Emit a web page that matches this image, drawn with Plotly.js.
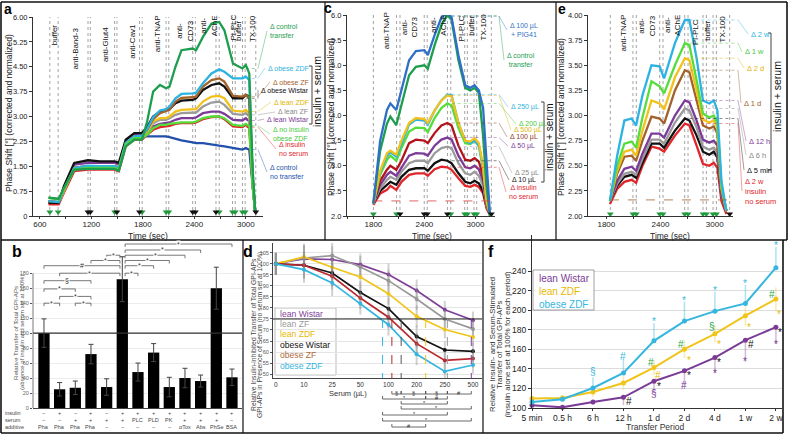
<!DOCTYPE html>
<html>
<head>
<meta charset="utf-8">
<script src="https://cdn.plot.ly/plotly-3.0.1.min.js"></script>
<style>
html,body{margin:0;padding:0;background:#fff;}
#chart{width:789px;height:440px;}
</style>
</head>
<body>
<div id="chart"></div>
<script>
// ================= DATA =================
// ---- panel a : phase shift traces (time in s) ----
const timeA = [700, 820, 880, 1000, 1160, 1300, 1470, 1520, 1600, 1700, 1790, 1850, 1920, 2000, 2070, 2110, 2180, 2250, 2380, 2420, 2500, 2600, 2690, 2750, 2850, 2960, 3000, 3040, 3080, 3110];
const aControlTransfer = [0.55,0.52,0.85,1.40,1.42,1.42,1.42,1.36,2.10,2.30,2.30,2.85,3.75,3.95,3.85,3.90,4.50,5.00,5.05,5.00,5.40,5.80,5.85,5.60,4.60,4.45,4.55,4.30,1.40,0.10];
const aObeseZDF        = [0.45,0.42,0.80,1.45,1.52,1.50,1.50,1.45,2.20,2.40,2.42,2.62,2.98,3.18,3.22,3.30,3.55,3.68,3.70,3.72,4.00,4.30,4.42,4.35,4.15,4.15,4.20,4.10,1.00,0.10];
const aObeseZF         = [0.45,0.42,0.80,1.45,1.50,1.50,1.50,1.45,2.20,2.40,2.42,2.60,2.92,3.10,3.15,3.20,3.45,3.56,3.58,3.60,3.90,4.10,4.15,4.05,3.62,3.60,3.65,3.55,1.00,0.10];
const aObeseWistar     = [0.40,0.40,0.90,1.60,1.68,1.65,1.65,1.60,2.30,2.50,2.50,2.68,3.00,3.15,3.20,3.22,3.40,3.48,3.50,3.55,3.80,3.95,4.00,3.90,3.55,3.55,3.65,3.60,1.20,0.10];
const aLeanZDF         = [0.40,0.40,0.75,1.45,1.50,1.50,1.50,1.45,2.20,2.40,2.40,2.55,2.85,2.95,2.95,3.00,3.15,3.20,3.20,3.22,3.45,3.60,3.62,3.55,3.18,3.15,3.20,3.10,1.00,0.10];
const aLeanZF          = [0.40,0.40,0.75,1.45,1.50,1.50,1.50,1.45,2.20,2.40,2.40,2.50,2.80,2.90,2.90,2.95,3.05,3.10,3.10,3.12,3.30,3.42,3.45,3.35,3.08,3.05,3.10,3.00,1.00,0.10];
const aLeanWistar      = [0.45,0.42,0.85,1.55,1.60,1.60,1.60,1.55,2.25,2.45,2.45,2.50,2.70,2.78,2.80,2.82,2.90,2.95,2.95,2.97,3.10,3.15,3.15,3.08,2.90,2.88,2.95,2.85,0.90,0.10];
const aNoInsulinObeseZDF = [0.55,0.50,0.80,1.40,1.45,1.45,1.45,1.40,2.15,2.35,2.35,2.45,2.65,2.75,2.75,2.78,2.80,2.82,2.82,2.85,2.95,3.00,3.00,2.95,2.75,2.72,2.78,2.70,0.90,0.10];
const aInsulinNoSerum  = [0.35,0.35,0.70,1.35,1.40,1.40,1.40,1.35,2.10,2.30,2.30,2.45,2.60,2.68,2.70,2.72,2.78,2.80,2.80,2.82,2.92,2.98,3.00,2.92,2.70,2.68,2.75,2.65,0.90,0.10];
const aControlNoTransfer = [0.40,0.40,0.80,1.45,1.50,1.50,1.50,1.45,2.20,2.40,2.40,2.40,2.42,2.42,2.40,2.38,2.32,2.28,2.22,2.20,2.20,2.15,2.12,2.10,2.05,2.00,2.05,2.00,0.90,0.10];
const eventsA = [716, 813, 1161, 1188, 1471, 1498, 1761, 1792, 2071, 2102, 2381, 2412, 2652, 2690, 2845, 2876, 2961, 2992, 3116];
const triGreenA = [716, 813, 1471, 1792, 2071, 2102, 2690, 2845, 2876, 2961, 2992];
const triBlackA = [1161, 1188, 1498, 1761, 2381, 2412, 2652, 3116];
const eventLabelsA = ['buffer','anti-Band-3','anti-Glut4','anti-Cav1','anti-TNAP','anti-<br>CD73','anti-<br>AChE','PI-PLC','buffer','TX-100'];
const eventLabelTimeA = [774, 1026, 1366, 1676, 1974, 2288, 2569, 2845, 2915, 3078];
const yTicksA = [0, 0.75, 1.5, 2.25, 3, 3.75, 4.5, 5.25, 6];
const yTickTextA = ['0','0.75','1.50','2.25','3.00','3.75','4.50','5.25','6.00'];
const legendA = ['Δ control<br>transfer','Δ obese ZDF','Δ obese ZF','Δ obese Wistar','Δ lean ZDF','Δ lean ZF','Δ lean Wistar','Δ no insulin<br>obese ZDF','Δ insulin<br>no serum','Δ control<br>no transfer'];

// ---- panel c : serum volume ----
const timeC = [1800, 1880, 1960, 2000, 2070, 2130, 2220, 2300, 2400, 2440, 2520, 2600, 2670, 2720, 2800, 2880, 2940, 2990, 3040, 3090, 3130, 3170];
const c100PIG41  = [2.25,3.50,4.11,4.24,4.11,4.50,5.10,5.28,5.30,5.20,5.60,5.95,6.05,5.95,5.20,4.60,4.55,4.60,4.50,4.15,3.00,2.05];
const cControl   = [2.25,3.30,3.84,3.98,3.81,4.20,4.80,4.97,5.00,4.93,5.40,5.80,6.00,5.90,5.10,4.55,4.50,4.55,4.45,3.60,2.60,2.00];
const c500       = [2.25,2.90,3.25,3.30,3.22,3.50,3.85,3.95,3.93,3.85,4.10,4.30,4.40,4.38,3.85,3.50,3.48,3.55,3.45,3.00,2.30,2.05];
const c250       = [2.25,2.88,3.20,3.27,3.18,3.45,3.82,3.92,3.90,3.82,4.10,4.30,4.42,4.40,3.85,3.50,3.45,3.50,3.40,2.95,2.30,2.05];
const c200       = [2.25,2.82,3.12,3.20,3.10,3.35,3.68,3.76,3.75,3.67,3.95,4.15,4.24,4.20,3.75,3.45,3.43,3.50,3.40,2.95,2.30,2.05];
const c100       = [2.25,2.70,2.92,3.00,2.92,3.10,3.45,3.52,3.50,3.45,3.65,3.80,3.85,3.80,3.40,3.12,3.10,3.15,3.08,2.80,2.25,2.05];
const c50        = [2.25,2.62,2.82,2.88,2.80,2.97,3.20,3.25,3.24,3.20,3.40,3.52,3.56,3.52,3.20,2.97,2.95,3.00,2.93,2.70,2.25,2.05];
const c25        = [2.25,2.55,2.72,2.78,2.72,2.88,3.05,3.10,3.10,3.05,3.25,3.35,3.38,3.35,3.05,2.85,2.82,2.88,2.80,2.60,2.20,2.05];
const c10        = [2.25,2.50,2.62,2.68,2.62,2.78,2.92,2.95,2.95,2.90,3.05,3.12,3.10,3.05,2.85,2.68,2.65,2.70,2.65,2.50,2.20,2.05];
const cNoSerum   = [2.22,2.45,2.52,2.60,2.52,2.68,2.82,2.85,2.85,2.80,2.93,2.98,2.97,2.92,2.75,2.60,2.58,2.62,2.58,2.45,2.15,2.02];
const eventsC = [1800, 2073, 2113, 2398, 2433, 2671, 2710, 2874, 2905, 2983, 3015, 3187];
const triGreenC = [1800, 2073, 2710, 2874, 2905, 2983, 3015];
const triBlackC = [2113, 2398, 2433, 2671, 3187];
const eventLabelsCE = ['anti-TNAP','anti-<br>CD73','anti-<br>AChE','PI-PLC','buffer','TX-100'];
const eventLabelTimeC = [1956, 2220, 2562, 2835, 2952, 3089];
const refLevelC = 2.3;
const legendC = ['Δ 100 µL<br>+ PIG41','Δ control<br>transfer','Δ 250 µL','Δ 200 µL','Δ 500 µL','Δ 100 µL','Δ 50 µL','Δ 25 µL','Δ 10 µL','Δ insulin<br>no serum'];

// ---- panel e : transfer period ----
const timeE = [1840, 1920, 2000, 2080, 2130, 2200, 2300, 2390, 2440, 2560, 2670, 2720, 2800, 2870, 2940, 2990, 3030, 3075, 3130];
const e2w        = [2.15,2.60,2.95,2.97,2.90,3.20,3.50,3.49,3.37,3.72,3.95,3.95,3.57,3.15,3.12,3.15,3.05,2.35,2.05];
const e1w        = [2.15,2.50,2.72,2.74,2.68,2.98,3.34,3.29,3.22,3.50,3.72,3.70,3.35,3.02,2.98,3.00,2.92,2.30,2.05];
const e2d        = [2.15,2.45,2.64,2.66,2.60,2.85,3.15,3.12,3.06,3.38,3.57,3.55,3.25,2.96,2.93,2.95,2.88,2.28,2.05];
const e1d        = [2.15,2.42,2.59,2.60,2.55,2.75,2.99,2.97,2.92,3.25,3.45,3.43,3.15,2.90,2.87,2.89,2.82,2.25,2.05];
const e12h       = [2.15,2.35,2.47,2.49,2.45,2.62,2.82,2.82,2.78,3.00,3.15,3.13,2.95,2.76,2.73,2.75,2.70,2.20,2.05];
const e6h        = [2.15,2.32,2.42,2.44,2.41,2.57,2.76,2.76,2.72,2.93,3.07,3.05,2.88,2.69,2.66,2.68,2.63,2.20,2.05];
const e5min      = [2.15,2.30,2.39,2.41,2.38,2.53,2.72,2.72,2.68,2.85,2.97,2.95,2.80,2.64,2.61,2.64,2.58,2.20,2.05];
const e2wNoSerum = [2.12,2.27,2.34,2.36,2.33,2.50,2.69,2.67,2.64,2.80,2.92,2.90,2.70,2.52,2.50,2.53,2.48,2.15,2.02];
const eventsE = [1844, 2095, 2132, 2391, 2428, 2668, 2705, 2871, 2908, 2982, 3019, 3166];
const triGreenE = [1844, 2095, 2132, 2391, 2428, 2668, 2705, 2871, 2908, 2982, 3019];
const triBlackE = [3166];
const eventLabelTimeE = [1985, 2248, 2529, 2797, 2919, 3092];
const refLevelE = 2.16;
const legendE = ['Δ 2 w','Δ 1 w','Δ 2 d','Δ 1 d','Δ 12 h','Δ 6 h','Δ 5 min','Δ 2 w<br>insulin<br>no serum'];

// ---- panel b : bar chart ----
const bValues = [100, 25, 27, 72, 28, 172, 48, 74, 28, 40, 36, 160, 41];
const bErrors = [19, 9, 9, 13, 11, 30, 12, 12, 13, 13, 8, 28, 11];
const bInsulin  = ['−','+','−','+','−','+','+','+','+','+','+','+','+'];
const bSerum    = ['−','−','+','+','+','+','PLC','PLD','PK','+','+','+','−'];
const bAdditive = ['Pha','Pha','Pha','Pha','−','−','−','−','−','αTox','Abs','PhSe','BSA'];
const bBracketFrom  = [0, 2, 1, 0, 0, 1, 0, 3, 4, 5, 5, 5, 5, 5, 5];
const bBracketTo    = [1, 3, 3, 2, 3, 5, 5, 5, 5, 6, 7, 8, 9, 10, 12];
const bBracketLevel = [140, 140, 149, 159, 170, 180, 190, 197, 204, 180, 190, 197, 204, 211, 219];
const bBracketSym   = ['*','*','*','*','§','*','#','*','*','*','*','*','*','*','*'];

// ---- panel d : serum dose response ----
const serumLabels = ['0','10','25','50','100','200','250','500'];
const dLeanWistar  = [100.2, 102.3, 102.0, 99.7, 95.2, 87.9, 79.2, 74.4];
const dLeanZF      = [100.0, 102.7, 103.8, 98.6, 92.4, 84.1, 75.0, 70.5];
const dLeanZDF     = [100.0, 103.2, 98.5, 94.1, 86.5, 76.2, 70.2, 66.8];
const dObeseWistar = [100.0, 99.4, 95.9, 87.0, 79.7, 67.0, 60.9, 60.3];
const dObeseZF     = [100.0, 99.4, 94.4, 84.5, 75.8, 63.8, 56.2, 57.0];
const dObeseZDF    = [100.0, 97.4, 91.4, 82.0, 72.4, 59.0, 51.2, 54.1];
const dErr         = [5, 6, 6, 5, 5, 5, 4, 4];
const dHalfLevel = 75;
const dCrossing = [3.79, 4.12, 4.45, 5.32, 6.09, 6.94];   // obese ZDF, obese ZF, obese Wistar, lean ZDF, lean ZF, lean Wistar
const dBracketFrom = [4.12, 4.45, 5.32, 6.09, 3.79, 5.32, 4.45, 4.45, 3.79, 3.79, 4.12];
const dBracketTo   = [4.45, 5.32, 6.09, 6.94, 5.32, 6.09, 6.09, 6.94, 6.09, 6.94, 5.32];
const dBracketSym  = ['§','§','§','#','*','#','*','*','*','*','#'];

// ---- panel f : transfer period ----
const periods = ['5 min','0.5 h','6 h','12 h','1 d','2 d','4 d','1 w','2 w'];
const fLeanWistar = [102.7, 100.7, 106.2, 110.9, 127.4, 138.0, 151.6, 169.4, 182.7];
const fLeanZDF    = [109.6, 110.3, 116.4, 125.6, 141.4, 160.2, 175.9, 194.4, 211.5];
const fObeseZDF   = [106.2, 108.9, 120.5, 135.9, 168.7, 188.9, 199.1, 207.0, 243.6];
const fErrObeseZDFUp     = [1, 2, 11, 14, 18, 20, 20, 19, 21];
const fErrLeanWistarDown = [1, 1, 3, 8, 12, 15, 16, 22, 17];
const fErrLeanZDF        = [3, 3, 5, 7, 8, 9, 9, 10, 12];
const fSymText  = ['*','*','*','*','*','#','§', '#','§','#','#', '*','*','*','*','#', '*','#','*','*','*','#', '*','*','*','#','§'];
const fSymX     = [8,7,6,5,4,3,2, 7.87,5.9,4.89,3.9, 8.11,7.13,6.14,5.14,4.13, 8.12,7.18,6.12,5.16,4.15,3.17, 8,7,6,5,4];
const fSymY     = [266,227.5,220.7,210.4,188.2,152.3,137, 216.2,183,165.3,146.5, 195.7,182,165,148.9,133.5, 177.3,165,146.2,132.8,121.5,106.2, 165.3,147.2,135.2,122.6,114.7];
const fSymGroup = ['c','c','c','c','c','c','c', 'g','g','g','g', 'y','y','y','y','y', 'k','k','k','k','k','k', 'p','p','p','p','p'];

// ================= STYLE / LAYOUT =================
const W = 789, H = 440;
const X = p => p / W;
const Y = p => 1 - p / H;
const FONT = 'Liberation Sans, Arial, Helvetica, sans-serif';
const C = {green:'#1d9e4f', cyan:'#2db3e2', brown:'#a3622b', black:'#111111', yellow:'#f2c21a', gray:'#9b9b9b',
           purple:'#7c3b97', lgreen:'#55dd3a', red:'#e0252b', blue:'#2350ad', pig:'#2f6fc6', dred:'#b3141c', ozf:'#b8282e'};
// plot-area geometry in pixels (x0,x1 left/right; y0,y1 top/bottom) and axis ranges
const G = {
  a:{x0:33, x1:263, r0:520, r1:3200, y0:17, y1:216, v0:0, v1:6},
  c:{x0:347, x1:495, r0:1490, r1:3230, y0:15, y1:216, v0:2, v1:6},
  e:{x0:588, x1:733, r0:1597, r1:3203, y0:15, y1:216, v0:2, v1:4}
};
const pxX = (g, t) => g.x0 + (t - g.r0) / (g.r1 - g.r0) * (g.x1 - g.x0);
const pxY = (g, v) => g.y1 - (v - g.v0) / (g.v1 - g.v0) * (g.y1 - g.y0);

const traces = [], shapes = [], annotations = [];
function ann(o) {
  const a = Object.assign({showarrow:false, xref:'paper', yref:'paper', xanchor:'center', yanchor:'middle'}, o);
  a.font = Object.assign({family:FONT, size:8, color:'#222'}, o.font || {});
  annotations.push(a);
}
function line(x, y, color, xa, ya, width) {
  traces.push({type:'scatter', mode:'lines', x:x, y:y, xaxis:xa, yaxis:ya, line:{color:color, width:width || 2.3},
               hoverinfo:'skip', showlegend:false});
}
function tri(xs, level, color, xa, ya) {
  traces.push({type:'scatter', mode:'markers', x:xs, y:xs.map(() => level), xaxis:xa, yaxis:ya,
               marker:{symbol:'triangle-down', size:6, color:color}, cliponaxis:false, hoverinfo:'skip', showlegend:false});
}
function vdash(xs, xa, ya) {
  xs.forEach(v => shapes.push({type:'line', xref:xa, yref:ya + ' domain', x0:v, x1:v, y0:0, y1:1,
                               line:{color:'#8c8c8c', width:0.8, dash:'dot'}, layer:'below'}));
}
function pline(x0, y0, x1, y1, color, width, dash, opacity) {
  shapes.push({type:'line', xref:'paper', yref:'paper', x0:X(x0), y0:Y(y0), x1:X(x1), y1:Y(y1),
               line:{color:color, width:width, dash:dash || 'solid'}, opacity:opacity === undefined ? 1 : opacity});
}

// ----- panel a -----
[[aControlNoTransfer, C.blue], [aInsulinNoSerum, C.red], [aLeanWistar, C.purple], [aLeanZF, C.gray], [aLeanZDF, C.yellow],
 [aObeseWistar, C.black], [aObeseZF, C.brown], [aObeseZDF, C.cyan], [aNoInsulinObeseZDF, C.lgreen], [aControlTransfer, C.green]]
 .forEach(s => line(timeA, s[0], s[1], 'x', 'y'));
vdash(eventsA, 'x', 'y');
tri(triGreenA, 0.12, '#1f9a3c', 'x', 'y');
tri(triBlackA, 0.12, '#111', 'x', 'y');
const evTopA = [22, 25, 25, 22, 13, 18, 13, 13, 18, 13];
eventLabelsA.forEach((t, i) => ann({text:t, x:eventLabelTimeA[i], xref:'x', y:Y(evTopA[i]), yanchor:'top', textangle:-90, font:{size:8, color:'#111'}}));
const legAx = [268, 266, 271, 259, 272, 276, 265, 271, 277, 268];
const legAy = [31, 68, 82, 90, 102, 112, 119, 134, 149, 172];
const legAc = [C.green, C.cyan, C.brown, C.black, '#e2b400', '#888', C.purple, '#46c93a', C.red, C.blue];
const legAseries = [aControlTransfer, aObeseZDF, aObeseZF, aObeseWistar, aLeanZDF, aLeanZF, aLeanWistar, aNoInsulinObeseZDF, aInsulinNoSerum, aControlNoTransfer];
legendA.forEach((t, i) => {
  const yv = pxY(G.a, legAseries[i][25]), xs = pxX(G.a, 3000);
  pline(xs, yv, 258, yv, legAc[i], 0.6, 'dot', 0.8);
  pline(258, yv, legAx[i] - 1, legAy[i], legAc[i], 0.6, 'solid', 0.7);
  ann({text:t, x:X(legAx[i]), y:Y(legAy[i]), xanchor:'left', align:'left', font:{size:7, color:legAc[i]}});
});

// ----- panel c -----
[[cNoSerum, C.red], [c10, C.black], [c25, C.gray], [c50, C.purple], [c100, C.dred], [c200, C.lgreen], [c250, C.cyan],
 [c500, C.yellow], [cControl, C.green], [c100PIG41, C.pig]].forEach(s => line(timeC, s[0], s[1], 'x2', 'y2'));
vdash(eventsC, 'x2', 'y2');
shapes.push({type:'line', xref:'x2', yref:'y2', x0:1800, x1:3170, y0:refLevelC, y1:refLevelC, line:{color:'#d84040', width:0.8, dash:'dash'}});
tri(triGreenC, 2.04, '#1f9a3c', 'x2', 'y2');
tri(triBlackC, 2.04, '#111', 'x2', 'y2');
const evTopC = [10, 15, 13, 13, 13, 12];
eventLabelsCE.forEach((t, i) => ann({text:t, x:eventLabelTimeC[i], xref:'x2', y:Y(evTopC[i]), yanchor:'top', textangle:-90, font:{size:8, color:'#111'}}));
const legCx = [508, 505, 509, 517, 512, 508, 509, 513, 510, 507];
const legCy = [30, 60, 107, 124, 130, 137, 146, 173, 180, 192];
const legCc = [C.pig, C.green, C.cyan, '#46c93a', '#e2b400', '#8a3a1a', C.purple, '#888', C.black, C.red];
const legCseries = [c100PIG41, cControl, c250, c200, c500, c100, c50, c25, c10, cNoSerum];
legendC.forEach((t, i) => {
  const yv = Math.max(pxY(G.c, legCseries[i][12]), 16), xs = pxX(G.c, 2720);
  pline(xs, yv, 499, yv, legCc[i], 0.6, 'dot', 0.8);
  pline(499, yv, legCx[i] - 1, legCy[i], legCc[i], 0.6, 'solid', 0.7);
  ann({text:t, x:X(legCx[i]), y:Y(legCy[i]), xanchor:'left', align:'center', font:{size:7, color:legCc[i]}});
});

// ----- panel e -----
[[e2wNoSerum, C.red], [e5min, C.black], [e6h, C.gray], [e12h, C.purple], [e1d, C.brown], [e2d, C.yellow], [e1w, C.lgreen], [e2w, C.cyan]]
 .forEach(s => line(timeE, s[0], s[1], 'x3', 'y3'));
vdash(eventsE, 'x3', 'y3');
shapes.push({type:'line', xref:'x3', yref:'y3', x0:1840, x1:3170, y0:refLevelE, y1:refLevelE, line:{color:'#a3622b', width:0.8, dash:'dash'}});
tri(triGreenE, 2.02, '#1f9a3c', 'x3', 'y3');
tri(triBlackE, 2.02, '#111', 'x3', 'y3');
const evTopE = [13, 13, 13, 17, 18, 13];
eventLabelsCE.forEach((t, i) => ann({text:t, x:eventLabelTimeE[i], xref:'x3', y:Y(evTopE[i]), yanchor:'top', textangle:-90, font:{size:8, color:'#111'}}));
const legEx = [749, 743, 745, 742, 747, 747, 745, 743];
const legEy = [34, 52, 68, 103, 141, 155, 170, 191];
const legEc = [C.cyan, '#46c93a', '#e2b400', C.brown, C.purple, '#888', C.black, C.red];
const legEseries = [e2w, e1w, e2d, e1d, e12h, e6h, e5min, e2wNoSerum];
legendE.forEach((t, i) => {
  const yv = pxY(G.e, legEseries[i][10]), xs = pxX(G.e, 2720);
  pline(xs, yv, 738, yv, legEc[i], 0.6, 'dot', 0.8);
  pline(738, yv, legEx[i] - 1, legEy[i], legEc[i], 0.6, 'solid', 0.7);
  ann({text:t, x:X(legEx[i]), y:Y(legEy[i]), xanchor:'left', align:'left', font:{size:7.5, color:legEc[i]}});
});

// "insulin + serum" brackets
[[317, 92, 312, 66, 124, 10.5], [550, 137, 544, 102, 182, 10], [777, 97, 771, 33, 170, 10.5]].forEach(b => {
  ann({text:'insulin + serum', x:X(b[0]), y:Y(b[1]), textangle:-90, font:{size:b[5], color:'#111'}});
  pline(b[2], b[3], b[2], b[4], '#444', 1);
  pline(b[2] - 3, b[3], b[2], b[3], '#444', 1);
  pline(b[2] - 3, b[4], b[2], b[4], '#444', 1);
});

// top-row axis titles
[[9, 113], [331, 117], [561, 117]].forEach(p => ann({text:'Phase Shift [°] (corrected and normalized)', x:X(p[0]), y:Y(p[1]), textangle:-90, font:{size:8.5, color:'#222'}}));
[[148, 236], [432, 236], [670, 236]].forEach(p => ann({text:'Time (sec)', x:X(p[0]), y:Y(p[1]), font:{size:8.5, color:'#222'}}));

// ----- panel b -----
const bIdx = bValues.map((v, i) => i);
traces.push({type:'bar', x:bIdx, y:bValues, xaxis:'x4', yaxis:'y4', width:0.72, marker:{color:'#000'},
             error_y:{type:'data', array:bErrors, color:'#444', thickness:1, width:2.5}, hoverinfo:'skip', showlegend:false});
shapes.push({type:'line', xref:'x4 domain', yref:'y4', x0:0, x1:1, y0:100, y1:100, line:{color:'#333', width:1.2}});
shapes.push({type:'line', xref:'x4 domain', yref:'y4', x0:0, x1:0, y0:0, y1:180, line:{color:'#555', width:0.8}});
bBracketFrom.forEach((f, i) => {
  const t = bBracketTo[i], lev = bBracketLevel[i];
  const x0 = f === 5 ? 5.18 : f, x1 = t === 5 ? 4.85 : t;
  const st = {color:'#555', width:0.8};
  shapes.push({type:'line', xref:'x4', yref:'y4', x0:x0, x1:x1, y0:lev, y1:lev, line:st});
  shapes.push({type:'line', xref:'x4', yref:'y4', x0:x0, x1:x0, y0:lev, y1:lev - 4, line:st});
  shapes.push({type:'line', xref:'x4', yref:'y4', x0:x1, x1:x1, y0:lev, y1:lev - 4, line:st});
  ann({text:bBracketSym[i], x:(x0 + x1) / 2, xref:'x4', y:lev, yref:'y4', bgcolor:'#fff', borderpad:0, font:{size:7, color:'#333'}});
});
[['insulin', bInsulin, 413], ['serum', bSerum, 420], ['additive', bAdditive, 427]].forEach(r => {
  ann({text:r[0], x:X(3), y:Y(r[2]), xanchor:'left', font:{size:5.5, color:'#444'}});
  r[1].forEach((t, i) => ann({text:t, x:i, xref:'x4', y:Y(r[2]), font:{size:5.5, color:'#444'}}));
});
ann({text:'Relative Transfer of Total GPI-APs', x:X(15), y:Y(333), textangle:-90, font:{size:6.2, color:'#555'}});
ann({text:'(absence of insulin and serum set at 100%)', x:X(22), y:Y(333), textangle:-90, font:{size:6, color:'#555'}});

// ----- panel d -----
const dIdx = serumLabels.map((v, i) => i);
const dCol = {lw:'#7f3f98', lzf:'#999999', lzdf:'#f0c419', ow:'#111111', ozf:C.ozf, ozdf:'#33b5e0'};
[[dLeanWistar, dCol.lw], [dLeanZF, dCol.lzf], [dLeanZDF, dCol.lzdf], [dObeseWistar, dCol.ow], [dObeseZF, dCol.ozf], [dObeseZDF, dCol.ozdf]]
 .forEach(s => traces.push({type:'scatter', mode:'lines+markers', x:dIdx, y:s[0], xaxis:'x5', yaxis:'y5',
   line:{color:s[1], width:1.7}, marker:{size:4, color:s[1]}, cliponaxis:false,
   error_y:{type:'data', array:dErr, color:'rgba(140,140,140,0.4)', thickness:2, width:0}, hoverinfo:'skip', showlegend:false}));
shapes.push({type:'line', xref:'x5 domain', yref:'y5', x0:0, x1:1, y0:dHalfLevel, y1:dHalfLevel, line:{color:'#222', width:1}});
const dCrossCol = [dCol.ozdf, dCol.ozf, '#555', dCol.lzdf, '#999', dCol.lw];
dCrossing.forEach((v, i) => shapes.push({type:'line', xref:'x5', yref:'y5', x0:v, x1:v, y0:dHalfLevel, y1:48.2, line:{color:dCrossCol[i], width:1, dash:'dash'}}));
const dRowY = [394, 394, 394, 394, 399, 399, 404, 409, 415, 421, 427];
dBracketFrom.forEach((f, i) => {
  const t = dBracketTo[i], yy = dRowY[i];
  const st = {color:'#444', width:0.8};
  shapes.push({type:'line', xref:'x5', yref:'paper', x0:f, x1:t, y0:Y(yy), y1:Y(yy), line:st});
  shapes.push({type:'line', xref:'x5', yref:'paper', x0:f, x1:f, y0:Y(yy), y1:Y(yy - 3), line:st});
  shapes.push({type:'line', xref:'x5', yref:'paper', x0:t, x1:t, y0:Y(yy), y1:Y(yy - 3), line:st});
  ann({text:dBracketSym[i], x:(f + t) / 2, xref:'x5', y:Y(yy - 1.5), font:{size:5.5, color:'#333'}});
});
shapes.push({type:'rect', xref:'paper', yref:'paper', x0:X(275), x1:X(336), y0:Y(308), y1:Y(375), line:{color:'#aaa', width:0.8}, fillcolor:'rgba(255,255,255,0.85)', layer:'below'});
const dLegText = ['lean Wistar','lean ZF','lean ZDF','obese Wistar','obese ZF','obese ZDF'];
const dLegCol = ['#7f3f98', '#999', '#e8b800', '#111', '#b06a3a', '#33b5e0'];
const dLegY = [314, 324, 334, 345, 355, 366];
dLegText.forEach((t, i) => ann({text:t, x:X(278), y:Y(dLegY[i]), xanchor:'left', font:{size:8.6, color:dLegCol[i]}}));
ann({text:'Relative Insulin-inhibited Transfer of Total GPI-APs', x:X(253), y:Y(335), textangle:-90, font:{size:6.8, color:'#444'}});
ann({text:'GPI-APs in Presence of Serum (no serum set at 100%)', x:X(260), y:Y(335), textangle:-90, font:{size:6.8, color:'#444'}});
ann({text:'Serum (µL)', x:X(348), y:Y(393), font:{size:7.5, color:'#333'}});

// ----- panel f -----
const fIdx = periods.map((v, i) => i);
const fCol = {lw:'#7a3b96', lzdf:'#f0c419', ozdf:'#35b6de'};
traces.push({type:'scatter', mode:'lines+markers', x:fIdx, y:fLeanWistar, xaxis:'x6', yaxis:'y6', line:{color:fCol.lw, width:2}, marker:{size:5, color:fCol.lw}, cliponaxis:false,
  error_y:{type:'data', symmetric:false, array:fIdx.map(() => 0), arrayminus:fErrLeanWistarDown, color:'rgba(122,59,150,0.35)', thickness:1.5, width:0}, hoverinfo:'skip', showlegend:false});
traces.push({type:'scatter', mode:'lines+markers', x:fIdx, y:fLeanZDF, xaxis:'x6', yaxis:'y6', line:{color:fCol.lzdf, width:2}, marker:{size:5, color:fCol.lzdf}, cliponaxis:false,
  error_y:{type:'data', array:fErrLeanZDF, color:'rgba(240,196,25,0.35)', thickness:1.5, width:0}, hoverinfo:'skip', showlegend:false});
traces.push({type:'scatter', mode:'lines+markers', x:fIdx, y:fObeseZDF, xaxis:'x6', yaxis:'y6', line:{color:fCol.ozdf, width:2}, marker:{size:5, color:fCol.ozdf}, cliponaxis:false,
  error_y:{type:'data', symmetric:false, array:fErrObeseZDFUp, arrayminus:fIdx.map(() => 0), color:'rgba(53,182,222,0.4)', thickness:1.5, width:0}, hoverinfo:'skip', showlegend:false});
const fSymCol = {c:'#35b6de', g:'#2aa84a', y:'#e8bc00', k:'#111', p:'#7a3b96'};
fSymText.forEach((t, i) => ann({text:t, x:fSymX[i], xref:'x6', y:fSymY[i], yref:'y6', font:{size:10, color:fSymCol[fSymGroup[i]]}}));
shapes.push({type:'rect', xref:'paper', yref:'paper', x0:X(533), x1:X(594), y0:Y(270), y1:Y(310), line:{color:'#888', width:0.8}, fillcolor:'#fff'});
[['lean Wistar', fCol.lw, 278], ['lean ZDF', '#e8b800', 291], ['obese ZDF', fCol.ozdf, 304]].forEach(r =>
  ann({text:r[0], x:X(537), y:Y(r[2]), xanchor:'left', font:{size:10, color:r[1]}}));
ann({text:'Relative Insulin- and Serum-Stimulated', x:X(492), y:Y(345), textangle:-90, font:{size:7.8, color:'#333'}});
ann({text:'Transfer of Total GPI-APs', x:X(499), y:Y(345), textangle:-90, font:{size:7.8, color:'#333'}});
ann({text:'(insulin alone set at 100% for each period)', x:X(506.5), y:Y(345), textangle:-90, font:{size:7.8, color:'#333'}});
ann({text:'Transfer Period', x:X(655), y:Y(427), font:{size:8.5, color:'#333'}});

// panel letters
[['a', 8, 9, 14], ['c', 328, 8, 14], ['e', 562, 9, 14], ['b', 17, 251, 16], ['d', 248, 251, 16], ['f', 491, 251, 16]].forEach(p =>
  ann({text:'<b>' + p[0] + '</b>', x:X(p[1]), y:Y(p[2]), borderpad:0, font:{size:p[3], color:'#000'}}));

// frame lines
pline(1, 2, 787, 2, '#111', 1.6); pline(1, 2, 1, 433, '#111', 1.6); pline(787, 2, 787, 240, '#111', 1.6);
pline(1, 240, 787, 240, '#111', 1.4); pline(325, 2, 325, 240, '#111', 1.2); pline(556, 2, 556, 240, '#111', 1.2);
pline(243, 240, 243, 433, '#111', 1.2); pline(483, 240, 483, 433, '#111', 1.2); pline(783, 240, 783, 433, '#111', 1.6);
pline(1, 433, 783, 433, '#111', 1.6);

const axLine = {showline:true, linecolor:'#333', linewidth:1, zeroline:false, showgrid:false, ticks:'outside', ticklen:3, tickcolor:'#333'};
const xTop = {ticklen:2, ticklabelstandoff:-2, tick0:0, dtick:600, tickfont:{size:8},
              minor:{ticks:'outside', ticklen:2, dtick:300, tick0:0, tickcolor:'#333'}};
const layout = {
  width:W, height:H, margin:{l:0, r:0, t:0, b:0}, paper_bgcolor:'#fff', plot_bgcolor:'rgba(0,0,0,0)',
  font:{family:FONT, size:8, color:'#222'}, showlegend:false, bargap:0.2,
  xaxis: Object.assign({}, axLine, xTop, {domain:[X(G.a.x0), X(G.a.x1)], range:[G.a.r0, G.a.r1], anchor:'y'}),
  yaxis: Object.assign({}, axLine, {domain:[Y(G.a.y1), Y(G.a.y0)], range:[G.a.v0, G.a.v1], anchor:'x', tickvals:yTicksA, ticktext:yTickTextA, tickfont:{size:7.5}}),
  xaxis2: Object.assign({}, axLine, xTop, {domain:[X(G.c.x0), X(G.c.x1)], range:[G.c.r0, G.c.r1], anchor:'y2'}),
  yaxis2: Object.assign({}, axLine, {domain:[Y(G.c.y1), Y(G.c.y0)], range:[G.c.v0, G.c.v1], anchor:'x2', dtick:0.5, tickformat:'.1f', tickfont:{size:7.5}}),
  xaxis3: Object.assign({}, axLine, xTop, {domain:[X(G.e.x0), X(G.e.x1)], range:[G.e.r0, G.e.r1], anchor:'y3'}),
  yaxis3: Object.assign({}, axLine, {domain:[Y(G.e.y1), Y(G.e.y0)], range:[G.e.v0, G.e.v1], anchor:'x3', dtick:0.25, tickformat:'.2f', tickfont:{size:7.5}}),
  xaxis4: {domain:[X(33), X(242)], range:[-0.7, 12.64], anchor:'y4', showline:true, linecolor:'#444', linewidth:1, zeroline:false, showgrid:false, showticklabels:false, ticks:''},
  yaxis4: {domain:[Y(408), Y(241)], range:[0, 223], anchor:'x4', showline:false, zeroline:false, showgrid:true, gridcolor:'#ececec',
           tickvals:[0,20,40,60,80,100,120,140,160,180], ticks:'outside', ticklen:2, tickcolor:'#555', tickfont:{size:5.5, color:'#666'}},
  xaxis5: {domain:[X(273), X(482)], range:[-0.1, 7.32], anchor:'y5', showline:true, linecolor:'#444', linewidth:1, zeroline:false, showgrid:false,
           tickvals:dIdx, ticktext:serumLabels, ticks:'', tickfont:{size:6.5, color:'#333'}},
  yaxis5: {domain:[Y(378), Y(243)], range:[48.2, 109.5], anchor:'x5', showline:true, linecolor:'#444', linewidth:1, zeroline:false, showgrid:true, gridcolor:'#e4e4e4',
           tickvals:[50,55,60,65,70,75,80,85,90,95,100,105], ticks:'outside', ticklen:2, tickcolor:'#555', tickfont:{size:5.5, color:'#555'}},
  xaxis6: {domain:[X(532), X(782)], range:[0, 8.2], anchor:'y6', showline:true, linecolor:'#333', linewidth:1, zeroline:false, showgrid:false,
           tickvals:fIdx, ticktext:periods, ticks:'outside', ticklen:2, tickcolor:'#333', tickfont:{size:8.5, color:'#222'}},
  yaxis6: {domain:[Y(408), Y(235)], range:[100, 277], anchor:'x6', showline:true, linecolor:'#333', linewidth:1, zeroline:false, showgrid:true, gridcolor:'#dcdcdc',
           tickvals:[100,120,140,160,180,200,220,240], ticks:'outside', ticklen:3, tickcolor:'#333', tickfont:{size:8.5, color:'#222'}},
  shapes:shapes, annotations:annotations
};
Plotly.newPlot('chart', traces, layout, {staticPlot:true, displayModeBar:false});
</script>
</body>
</html>
